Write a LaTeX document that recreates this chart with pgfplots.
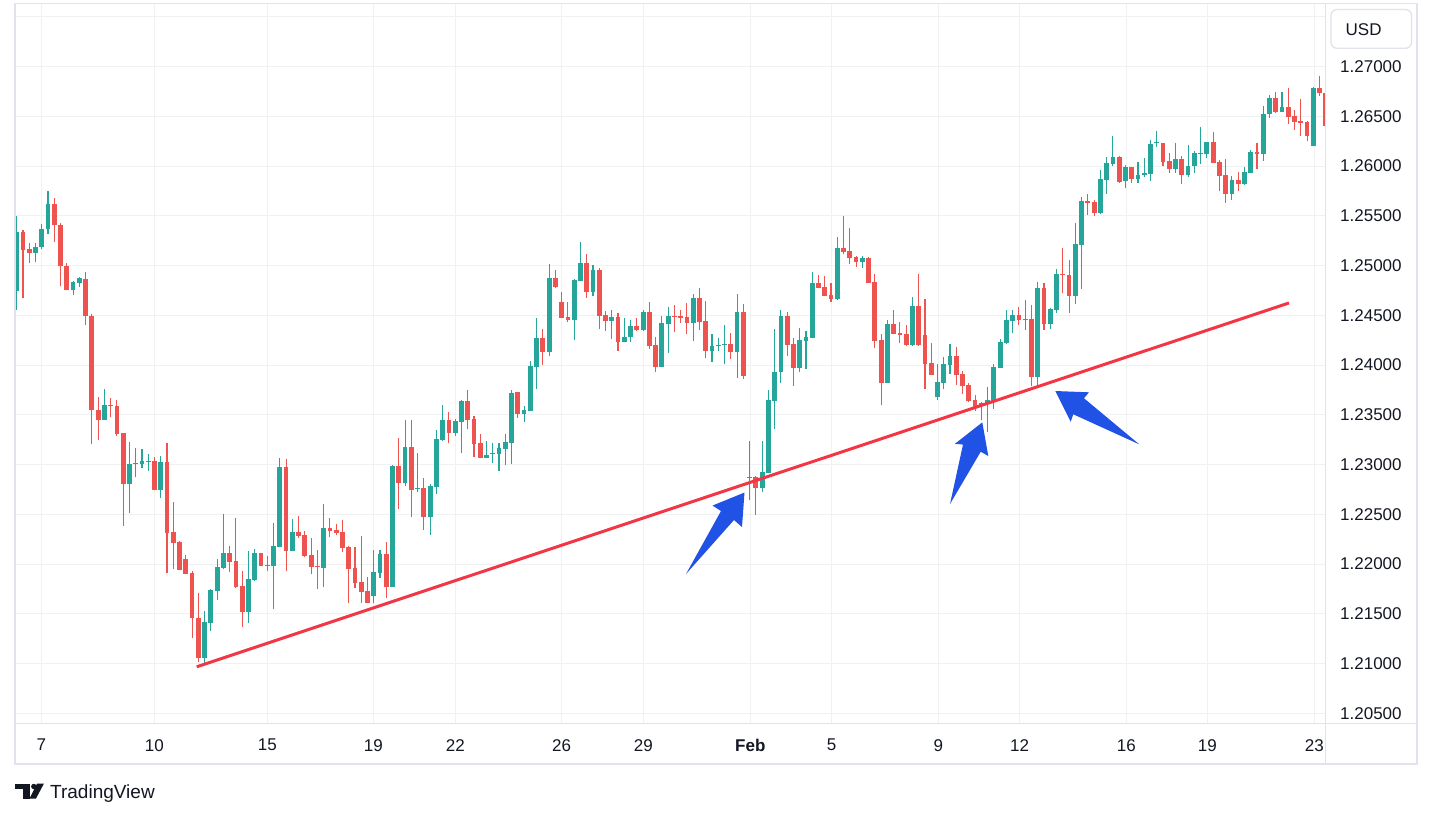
\documentclass[border=0pt]{standalone}
\usepackage{fontspec}
\setmainfont{Liberation Sans}
\usepackage{pgfplots}
\usepackage{pgfplotstable}
\pgfplotsset{compat=1.18}
\definecolor{upc}{RGB}{38,166,154}
\definecolor{dnc}{RGB}{239,83,80}
\definecolor{trendc}{RGB}{242,54,69}
\definecolor{arrc}{RGB}{32,82,230}
\definecolor{gridc}{RGB}{240,241,243}
\definecolor{framec}{RGB}{224,227,235}
\definecolor{txtc}{RGB}{19,23,34}
\pgfplotstableread{
i o h l c
1 1.24741 1.25500 1.24554 1.25333
2 1.25333 1.25360 1.24671 1.25159
3 1.25169 1.25229 1.25022 1.25122
4 1.25122 1.25229 1.25032 1.25189
5 1.25182 1.25420 1.25162 1.25370
6 1.25363 1.25751 1.25316 1.25620
7 1.25620 1.25681 1.25232 1.25403
8 1.25410 1.25430 1.24791 1.24992
9 1.24998 1.25028 1.24751 1.24751
10 1.24751 1.24848 1.24701 1.24838
11 1.24828 1.24885 1.24781 1.24871
12 1.24868 1.24938 1.24400 1.24490
13 1.24497 1.24517 1.23206 1.23547
14 1.23550 1.23679 1.23246 1.23447
15 1.23447 1.23764 1.23447 1.23594
16 1.23590 1.23664 1.23477 1.23584
17 1.23584 1.23644 1.23286 1.23306
18 1.23313 1.23313 1.22383 1.22804
19 1.22804 1.23222 1.22513 1.23002
20 1.23002 1.23166 1.22875 1.23012
21 1.23005 1.23152 1.22968 1.23032
22 1.23022 1.23102 1.22935 1.23032
23 1.23032 1.23075 1.22744 1.22744
24 1.22744 1.23082 1.22664 1.23022
25 1.23022 1.23212 1.21909 1.22316
26 1.22319 1.22621 1.21950 1.22211
27 1.22218 1.22228 1.21943 1.21943
28 1.22047 1.22094 1.21899 1.21899
29 1.21906 1.21926 1.21255 1.21456
30 1.21463 1.21705 1.21013 1.21054
31 1.21054 1.21533 1.20997 1.21413
32 1.21406 1.21745 1.21325 1.21735
33 1.21725 1.22047 1.21641 1.21966
34 1.21960 1.22500 1.21953 1.22107
35 1.22107 1.22178 1.21919 1.22023
36 1.22027 1.22460 1.21755 1.21765
37 1.21775 1.21926 1.21366 1.21517
38 1.21517 1.22127 1.21406 1.21846
39 1.21842 1.22154 1.21829 1.22107
40 1.22107 1.22107 1.21980 1.21980
41 1.21987 1.22077 1.21929 1.21980
42 1.21980 1.22409 1.21547 1.22178
43 1.22171 1.23064 1.22171 1.22973
44 1.22973 1.23054 1.21929 1.22131
45 1.22131 1.22450 1.22131 1.22319
46 1.22319 1.22480 1.22262 1.22278
47 1.22289 1.22332 1.22070 1.22077
48 1.22087 1.22258 1.21896 1.21970
49 1.21976 1.22138 1.21748 1.21970
50 1.21960 1.22601 1.21768 1.22359
51 1.22359 1.22460 1.22272 1.22332
52 1.22342 1.22399 1.22289 1.22309
53 1.22320 1.22440 1.22122 1.22162
54 1.22169 1.22179 1.21604 1.21952
55 1.21958 1.22169 1.21764 1.21811
56 1.21818 1.22279 1.21611 1.21721
57 1.21728 1.21868 1.21611 1.21611
58 1.21678 1.22146 1.21604 1.21918
59 1.21912 1.22146 1.21865 1.22099
60 1.22099 1.22219 1.21664 1.21771
61 1.21771 1.22992 1.21771 1.22982
62 1.22982 1.23263 1.22554 1.22814
63 1.22814 1.23443 1.22788 1.23172
64 1.23172 1.23443 1.22473 1.22748
65 1.22754 1.23115 1.22721 1.22761
66 1.22761 1.22861 1.22343 1.22473
67 1.22473 1.22801 1.22293 1.22781
68 1.22774 1.23350 1.22707 1.23253
69 1.23243 1.23594 1.23232 1.23443
70 1.23443 1.23533 1.23216 1.23319
71 1.23316 1.23460 1.23286 1.23433
72 1.23426 1.23650 1.23115 1.23637
73 1.23637 1.23754 1.23356 1.23446
74 1.23453 1.23487 1.23079 1.23206
75 1.23212 1.23306 1.23065 1.23065
76 1.23065 1.23232 1.23065 1.23099
77 1.23109 1.23212 1.23015 1.23115
78 1.23109 1.23219 1.22935 1.23162
79 1.23156 1.23309 1.22995 1.23222
80 1.23216 1.23754 1.23005 1.23724
81 1.23729 1.23729 1.23472 1.23512
82 1.23512 1.23589 1.23430 1.23549
83 1.23539 1.24040 1.23539 1.23990
84 1.23983 1.24472 1.23763 1.24271
85 1.24271 1.24361 1.24003 1.24134
86 1.24134 1.25013 1.24094 1.24870
87 1.24870 1.24953 1.24779 1.24786
88 1.24632 1.24732 1.24475 1.24475
89 1.24478 1.24632 1.24428 1.24452
90 1.24452 1.24863 1.24254 1.24853
91 1.24846 1.25234 1.24846 1.25023
92 1.25023 1.25114 1.24676 1.24736
93 1.24736 1.25007 1.24696 1.24953
94 1.24953 1.24977 1.24361 1.24495
95 1.24498 1.24542 1.24345 1.24445
96 1.24445 1.24552 1.24261 1.24478
97 1.24478 1.24522 1.24144 1.24234
98 1.24234 1.24472 1.24228 1.24278
99 1.24278 1.24452 1.24228 1.24391
100 1.24391 1.24468 1.24345 1.24351
101 1.24351 1.24552 1.24345 1.24535
102 1.24535 1.24632 1.24164 1.24191
103 1.24201 1.24281 1.23933 1.23977
104 1.23977 1.24492 1.23977 1.24421
105 1.24415 1.24582 1.24124 1.24492
106 1.24492 1.24599 1.24335 1.24482
107 1.24492 1.24552 1.24425 1.24475
108 1.24478 1.24622 1.24315 1.24425
109 1.24424 1.24713 1.24243 1.24669
110 1.24669 1.24773 1.24354 1.24434
111 1.24441 1.24646 1.24072 1.24143
112 1.24143 1.24310 1.24029 1.24190
113 1.24190 1.24270 1.24143 1.24203
114 1.24203 1.24401 1.24009 1.24210
115 1.24210 1.24320 1.24059 1.24133
116 1.24133 1.24713 1.23871 1.24532
117 1.24532 1.24612 1.23861 1.23892
118 1.22863 1.23238 1.22648 1.22873
119 1.22873 1.22883 1.22497 1.22769
120 1.22769 1.23238 1.22729 1.22923
121 1.22916 1.23747 1.22916 1.23647
122 1.23640 1.24361 1.23359 1.23935
123 1.23935 1.24552 1.23821 1.24491
124 1.24491 1.24532 1.24093 1.24203
125 1.24210 1.24270 1.23791 1.23972
126 1.23972 1.24371 1.23932 1.24250
127 1.24243 1.24341 1.23962 1.24280
128 1.24274 1.24934 1.24274 1.24823
129 1.24823 1.24904 1.24773 1.24773
130 1.24783 1.24893 1.24696 1.24696
131 1.24703 1.24823 1.24635 1.24662
132 1.24662 1.25286 1.24656 1.25175
133 1.25175 1.25500 1.25115 1.25138
134 1.25141 1.25376 1.25017 1.25078
135 1.25084 1.25098 1.24987 1.25038
136 1.25038 1.25095 1.24977 1.25074
137 1.25077 1.25087 1.24829 1.24829
138 1.24836 1.24916 1.24174 1.24245
139 1.24252 1.24312 1.23597 1.23822
140 1.23822 1.24450 1.23822 1.24413
141 1.24413 1.24554 1.24312 1.24312
142 1.24322 1.24433 1.24221 1.24302
143 1.24312 1.24403 1.24191 1.24201
144 1.24201 1.24685 1.24195 1.24594
145 1.24594 1.24916 1.24195 1.24205
146 1.24302 1.24664 1.23762 1.24013
147 1.24020 1.24221 1.23899 1.23899
148 1.23681 1.24010 1.23651 1.23829
149 1.23822 1.24080 1.23762 1.24010
150 1.24003 1.24211 1.23909 1.24091
151 1.24091 1.24181 1.23799 1.23899
152 1.23909 1.23940 1.23708 1.23788
153 1.23799 1.23819 1.23624 1.23637
154 1.23648 1.23695 1.23540 1.23567
155 1.23587 1.23631 1.23446 1.23614
156 1.23614 1.23778 1.23329 1.23648
157 1.23641 1.24010 1.23560 1.23980
158 1.23973 1.24262 1.23973 1.24231
159 1.24221 1.24554 1.24211 1.24453
160 1.24446 1.24554 1.24322 1.24503
161 1.24503 1.24584 1.24403 1.24450
162 1.24450 1.24654 1.24356 1.24463
163 1.24463 1.24604 1.23788 1.23879
164 1.23879 1.24836 1.23788 1.24775
165 1.24774 1.24825 1.24350 1.24416
166 1.24416 1.24570 1.24362 1.24563
167 1.24553 1.24965 1.24526 1.24915
168 1.24915 1.25176 1.24721 1.24905
169 1.24905 1.25056 1.24526 1.24697
170 1.24697 1.25427 1.24617 1.25216
171 1.25210 1.25689 1.24768 1.25648
172 1.25648 1.25719 1.25508 1.25632
173 1.25638 1.25658 1.25501 1.25531
174 1.25531 1.25960 1.25518 1.25869
175 1.25859 1.26090 1.25719 1.26030
176 1.26023 1.26301 1.26000 1.26090
177 1.26090 1.26100 1.25833 1.25839
178 1.25849 1.26010 1.25779 1.25990
179 1.25990 1.25990 1.25833 1.25869
180 1.25869 1.26040 1.25829 1.25910
181 1.25906 1.26080 1.25886 1.25930
182 1.25923 1.26261 1.25849 1.26221
183 1.26228 1.26352 1.26191 1.26234
184 1.26231 1.26231 1.26000 1.26040
185 1.26050 1.26131 1.25930 1.25970
186 1.25970 1.26231 1.25930 1.26070
187 1.26070 1.26100 1.25819 1.25910
188 1.25910 1.26211 1.25889 1.26000
189 1.26000 1.26151 1.25930 1.26131
190 1.26124 1.26392 1.26020 1.26131
191 1.26124 1.26241 1.26084 1.26241
192 1.26241 1.26345 1.26034 1.26034
193 1.26040 1.26064 1.25749 1.25900
194 1.25910 1.26070 1.25632 1.25723
195 1.25723 1.25900 1.25662 1.25856
196 1.25856 1.25940 1.25753 1.25823
197 1.25823 1.25987 1.25813 1.25940
198 1.25933 1.26164 1.25933 1.26141
199 1.26141 1.26231 1.25973 1.26124
200 1.26124 1.26602 1.26054 1.26518
201 1.26518 1.26712 1.26485 1.26679
202 1.26679 1.26743 1.26532 1.26542
203 1.26542 1.26743 1.26542 1.26589
204 1.26589 1.26783 1.26425 1.26495
205 1.26502 1.26562 1.26361 1.26442
206 1.26452 1.26672 1.26304 1.26435
207 1.26442 1.26452 1.26251 1.26301
208 1.26201 1.26793 1.26201 1.26783
209 1.26783 1.26906 1.26702 1.26732
210 1.26732 1.26743 1.26371 1.26400
}\candles
\pgfplotsset{candle/.style={only marks, mark=*, mark size=0pt, mark options={draw=none, fill=none}, forget plot}}
\begin{document}
\begin{tikzpicture}
\path[use as bounding box, fill=white] (0,0) rectangle (1433bp,-818bp);
\begin{axis}[
  at={(15bp,-723bp)}, anchor=south west, scale only axis,
  width=1310bp, height=719bp,
  xmin=15, xmax=1325, ymin=1.20403, ymax=1.27628,
  axis line style={draw=none}, tick style={draw=none}, major tick length=0pt,
  grid=major, major grid style={draw=gridc, line width=1bp},
  xtick={41.3,154.3,267.3,373.3,455.3,561.7,643.3,750.3,831.7,938.3,1019.7,1126.3,1207.3,1314.3},
  xticklabels={7,10,15,19,22,26,29,\textbf{Feb},5,9,12,16,19,23},
  ytick={1.205,1.21,1.215,1.22,1.225,1.23,1.235,1.24,1.245,1.25,1.255,1.26,1.265,1.27},
  yticklabels={1.20500,1.21000,1.21500,1.22000,1.22500,1.23000,1.23500,1.24000,1.24500,1.25000,1.25500,1.26000,1.26500,1.27000},
  yticklabel pos=right,
  extra y ticks={1.275}, extra y tick labels={}, extra y tick style={grid=major},
  tick label style={font=\fontsize{17bp}{20bp}\selectfont, text=txtc},
  xticklabel style={anchor=north, inner sep=0pt, yshift=-16bp},
  yticklabel style={anchor=west, inner sep=0pt, xshift=15bp},
]
% wicks up
\addplot[candle,
  restrict expr to domain={\thisrow{c}-\thisrow{o}}{0:1},
  error bars/.cd, y dir=plus, y explicit, error mark=none,
  error bar style={draw=upc, line width=1.1bp}]
  table[x expr={16.7+(\thisrow{i}-1)*6.264}, y=l, y error plus expr={\thisrow{h}-\thisrow{l}}] {\candles};
% wicks down
\addplot[candle,
  restrict expr to domain={\thisrow{c}-\thisrow{o}}{-1:-0.0000001},
  error bars/.cd, y dir=plus, y explicit, error mark=none,
  error bar style={draw=dnc, line width=1.1bp}]
  table[x expr={16.7+(\thisrow{i}-1)*6.264}, y=l, y error plus expr={\thisrow{h}-\thisrow{l}}] {\candles};
% bodies up
\addplot[candle,
  restrict expr to domain={\thisrow{c}-\thisrow{o}}{0:1},
  error bars/.cd, y dir=plus, y explicit, error mark=none,
  error bar style={draw=upc, line width=4.8bp}]
  table[x expr={16.7+(\thisrow{i}-1)*6.264}, y=o, y error plus expr={max(\thisrow{c}-\thisrow{o},0.00011)}] {\candles};
% bodies down
\addplot[candle,
  restrict expr to domain={\thisrow{c}-\thisrow{o}}{-1:-0.0000001},
  error bars/.cd, y dir=plus, y explicit, error mark=none,
  error bar style={draw=dnc, line width=4.8bp}]
  table[x expr={16.7+(\thisrow{i}-1)*6.264}, y=c, y error plus expr={max(\thisrow{o}-\thisrow{c},0.00011)}] {\candles};
% trend line
\addplot[trendc, line width=3bp, forget plot] coordinates {(196.7,1.20968) (1289,1.24624)};
% arrows
\fill[arrc] (686,1.21900) -- (721,1.22533) -- (712.5,1.22588) -- (744.5,1.22719) -- (742,1.22372) -- (734,1.22443) -- cycle;
\fill[arrc] (950,1.22603) -- (963,1.23201) -- (955,1.23209) -- (982.3,1.23424) -- (988.3,1.23086) -- (980.7,1.23129) -- cycle;
\fill[arrc] (1139.3,1.23203) -- (1073.3,1.23505) -- (1070.7,1.23430) -- (1055.3,1.23739) -- (1089,1.23726) -- (1084,1.23666) -- cycle;
\end{axis}
\begin{scope}[x=1bp,y=-1bp]
\draw[framec, line width=1.3bp] (15,3.5) rectangle (1417,764);
\draw[framec, line width=1.3bp] (1325.5,3.5) -- (1325.5,764);
\draw[framec, line width=1.3bp] (15,723.3) -- (1417,723.3);
\draw[framec, line width=1.3bp, rounded corners=6bp] (1331,9.5) rectangle (1411.5,48.3);
\node[anchor=base west, inner sep=0pt, text=txtc, font=\fontsize{17bp}{20bp}\selectfont] at (1345.5,35.3) {USD};
% logo
\fill[txtc] (15,783.5) rectangle (29.5,789);
\fill[txtc] (22.5,783.5) rectangle (29.5,798.5);
\fill[txtc] (33.8,786.5) circle (2.7);
\fill[txtc] (37,783.5) -- (44,783.5) -- (36,798.5) -- (29.5,798.5) -- cycle;
\node[anchor=base west, inner sep=0pt, text=txtc, font=\fontsize{19bp}{22bp}\selectfont] at (50,798) {TradingView};
\end{scope}
\end{tikzpicture}
\end{document}
